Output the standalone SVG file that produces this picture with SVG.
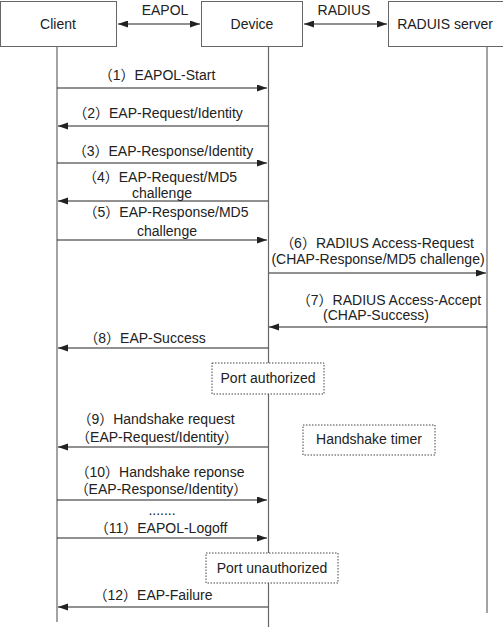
<svg xmlns="http://www.w3.org/2000/svg" width="503" height="627" viewBox="0 0 503 627">
<style>
text{font-family:"Liberation Sans","Noto Sans CJK SC",sans-serif;font-size:14px;fill:#222;text-anchor:middle}
.box{fill:#fff;stroke:#666;stroke-width:1}
.life{stroke:#666;stroke-width:1.2;fill:none}
.msg{stroke:#222;stroke-width:1;fill:none}
.dot{fill:#fff;stroke:#444;stroke-width:1;stroke-dasharray:1.5 1.5}
</style>
<defs>
<marker id="ah" markerUnits="userSpaceOnUse" markerWidth="11" markerHeight="8" refX="10" refY="3.5" orient="auto">
<path d="M0,0 L10,3.5 L0,7 z" fill="#222"/>
</marker>
<marker id="as" markerUnits="userSpaceOnUse" markerWidth="11" markerHeight="8" refX="0" refY="3.5" orient="auto">
<path d="M10,0 L0,3.5 L10,7 z" fill="#222"/>
</marker>
</defs>
<g id="lifelines">
<line class="life" x1="57" y1="46" x2="57" y2="622"/>
<line class="life" x1="268.5" y1="46" x2="268.5" y2="627"/>
<line class="life" x1="487" y1="46" x2="487" y2="613"/>
</g>
<g id="client"><rect class="box" x="0.5" y="1.5" width="116" height="45"/><text x="58" y="29">Client</text></g>
<g id="device"><rect class="box" x="201.5" y="1.5" width="101" height="45"/><text x="252" y="29">Device</text></g>
<g id="radius"><rect class="box" x="388.5" y="1.5" width="118" height="45"/><text x="445" y="29">RADUIS server</text></g>
<g id="connectors">
<line class="msg" x1="118" y1="24" x2="200" y2="24" marker-start="url(#as)" marker-end="url(#ah)"/>
<text x="165" y="15">EAPOL</text>
<line class="msg" x1="304" y1="24" x2="387" y2="24" marker-start="url(#as)" marker-end="url(#ah)"/>
<text x="344" y="15">RADIUS</text>

<line class="msg" x1="57" y1="88" x2="267" y2="88" marker-end="url(#ah)"/>
<text x="157" y="80">（1）EAPOL-Start</text>
<line class="msg" x1="268" y1="126" x2="58" y2="126" marker-end="url(#ah)"/>
<text x="158" y="118">（2）EAP-Request/Identity</text>
<line class="msg" x1="57" y1="163" x2="267" y2="163" marker-end="url(#ah)"/>
<text x="163" y="156">（3）EAP-Response/Identity</text>
<line class="msg" x1="268" y1="201" x2="58" y2="201" marker-end="url(#ah)"/>
<text x="160" y="182">（4）EAP-Request/MD5</text>
<text x="162" y="198">challenge</text>
<line class="msg" x1="57" y1="240" x2="267" y2="240" marker-end="url(#ah)"/>
<text x="166" y="217">（5）EAP-Response/MD5</text>
<text x="167" y="236">challenge</text>
<line class="msg" x1="269" y1="273" x2="486" y2="273" marker-end="url(#ah)"/>
<text x="377" y="248">（6）RADIUS Access-Request</text>
<text x="378" y="264">(CHAP-Response/MD5 challenge)</text>
<line class="msg" x1="487" y1="327" x2="269" y2="327" marker-end="url(#ah)"/>
<text x="389" y="305">（7）RADIUS Access-Accept</text>
<text x="376" y="320">(CHAP-Success)</text>
<line class="msg" x1="268" y1="348" x2="58" y2="348" marker-end="url(#ah)"/>
<text x="145" y="343">（8）EAP-Success</text>
<line class="msg" x1="268" y1="447" x2="58" y2="447" marker-end="url(#ah)"/>
<text x="156" y="424">（9）Handshake request</text>
<text x="157" y="442">（EAP-Request/Identity）</text>
<line class="msg" x1="57" y1="500" x2="267" y2="500" marker-end="url(#ah)"/>
<text x="160" y="477">（10）Handshake reponse</text>
<text x="161" y="494">（EAP-Response/Identity）</text>
<text x="162" y="515">.......</text>
<line class="msg" x1="57" y1="538" x2="267" y2="538" marker-end="url(#ah)"/>
<text x="161" y="533">（11）EAPOL-Logoff</text>
<line class="msg" x1="268" y1="607" x2="58" y2="607" marker-end="url(#ah)"/>
<text x="153" y="600">（12）EAP-Failure</text>
</g>
<g id="port-authorized"><rect class="dot" x="212" y="363" width="112" height="31"/><text x="268" y="383">Port authorized</text></g>
<g id="handshake-timer"><rect class="dot" x="303" y="425" width="132" height="30"/><text x="369" y="444">Handshake timer</text></g>
<g id="port-unauthorized"><rect class="dot" x="206" y="553" width="132" height="30"/><text x="272" y="573">Port unauthorized</text></g>
</svg>
